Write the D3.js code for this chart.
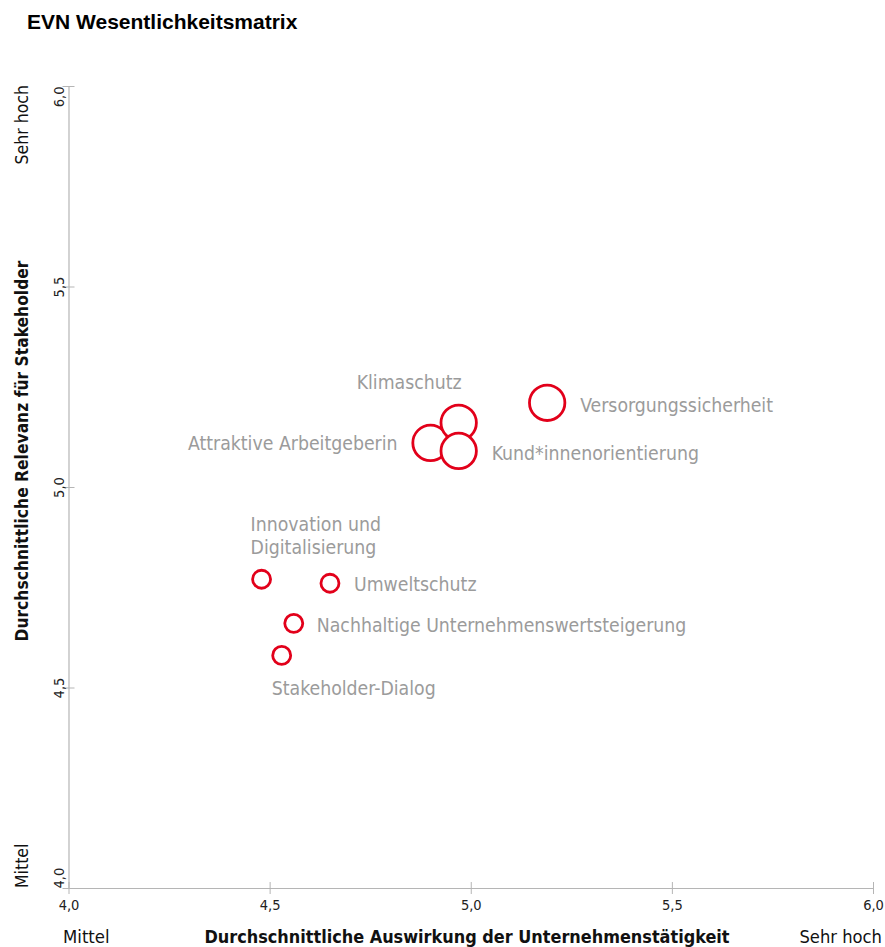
<!DOCTYPE html>
<html>
<head>
<meta charset="utf-8">
<script src="https://cdn.jsdelivr.net/npm/d3@7"></script>
<style>
  body { margin: 0; background: #fff; }
  svg text { font-family: "Liberation Sans Narrow", "DejaVu Sans Condensed", "Arial Narrow", sans-serif; }
  .title { font-family: "Liberation Sans", Arial, sans-serif !important; }
</style>
</head>
<body>
<svg id="chart" width="885" height="947"></svg>
<script>
// Materiality topics: impact of company activity (x) vs. stakeholder relevance (y)
const topics = [
  "Attraktive Arbeitgeberin",
  "Klimaschutz",
  "Kund*innenorientierung",
  "Versorgungssicherheit",
  "Innovation und Digitalisierung",
  "Umweltschutz",
  "Nachhaltige Unternehmenswertsteigerung",
  "Stakeholder-Dialog"
];
const impact    = [4.90, 4.97, 4.97, 5.19, 4.48, 4.65, 4.56, 4.53];
const relevance = [5.11, 5.16, 5.09, 5.21, 4.77, 4.76, 4.66, 4.58];
const priority  = ["hoch", "hoch", "hoch", "hoch", "mittel", "mittel", "mittel", "mittel"];

const tickValues = [4.0, 4.5, 5.0, 5.5, 6.0];
const tickLabels = ["4,0", "4,5", "5,0", "5,5", "6,0"];

// Label placement for each topic, relative to its bubble centre
const labelLayout = {
  "Attraktive Arbeitgeberin": { anchor: "end", dx: -33, dy: [7], lines: ["Attraktive Arbeitgeberin"] },
  "Klimaschutz": { anchor: "end", dx: 3, dy: [-34], lines: ["Klimaschutz"] },
  "Kund*innenorientierung": { anchor: "start", dx: 33, dy: [9], lines: ["Kund*innenorientierung"] },
  "Versorgungssicherheit": { anchor: "start", dx: 33, dy: [9], lines: ["Versorgungssicherheit"] },
  "Innovation und Digitalisierung": { anchor: "start", dx: -11, dy: [-48, -25], lines: ["Innovation und", "Digitalisierung"] },
  "Umweltschutz": { anchor: "start", dx: 24, dy: [8], lines: ["Umweltschutz"] },
  "Nachhaltige Unternehmenswertsteigerung": { anchor: "start", dx: 23, dy: [9], lines: ["Nachhaltige Unternehmenswertsteigerung"] },
  "Stakeholder-Dialog": { anchor: "start", dx: -10, dy: [40], lines: ["Stakeholder-Dialog"] }
};

const data = topics.map((t, i) => ({ topic: t, x: impact[i], y: relevance[i], priority: priority[i] }));

const svg = d3.select("#chart");
const axisColor = "#b5b5b5";
const red = "#e2001a";
const narrow = "Liberation Sans Narrow, DejaVu Sans Condensed, sans-serif";

const x = d3.scaleLinear().domain([4, 6]).range([68.5, 873]);
const y = d3.scaleLinear().domain([4, 6]).range([888, 86]);
const r = d3.scaleOrdinal().domain(["mittel", "hoch"]).range([9, 17.7]);

// Title
svg.append("text").attr("class", "title")
  .attr("x", 27).attr("y", 29)
  .attr("font-size", 21).attr("font-weight", "bold").attr("fill", "#000")
  .text("EVN Wesentlichkeitsmatrix");

// X axis
const xAxis = svg.append("g").attr("transform", `translate(0,${y(4)})`)
  .call(d3.axisBottom(x).tickValues(tickValues).tickFormat((d, i) => tickLabels[i]).tickSizeOuter(0));
xAxis.select(".domain").attr("stroke", axisColor).attr("stroke-width", 1.2);
xAxis.selectAll(".tick line").attr("stroke", axisColor).attr("y1", -6).attr("y2", 6);
xAxis.selectAll(".tick text").attr("fill", "#222").attr("font-size", 14.5)
  .attr("font-family", narrow).attr("y", 22).attr("dy", null);

// Y axis
const yAxis = svg.append("g").attr("transform", `translate(${x(4)},0)`)
  .call(d3.axisLeft(y).tickValues(tickValues).tickFormat((d, i) => tickLabels[i]).tickSizeOuter(0));
yAxis.select(".domain").attr("stroke", axisColor).attr("stroke-width", 1.2);
yAxis.selectAll(".tick line").attr("stroke", axisColor).attr("x1", -6).attr("x2", 6);
yAxis.selectAll(".tick text")
  .attr("fill", "#222").attr("font-size", 14.5)
  .attr("font-family", narrow)
  .attr("x", null).attr("dy", null)
  .attr("transform", "translate(-5,0) rotate(-90)")
  .attr("text-anchor", (d, i, n) => i === 0 ? "start" : (i === n.length - 1 ? "end" : "middle"));

// Axis descriptions
svg.append("text").attr("x", 63).attr("y", 943).attr("font-size", 18.4).attr("fill", "#111").text("Mittel");
svg.append("text").attr("x", 882).attr("y", 943).attr("font-size", 18.2).attr("fill", "#111")
  .attr("text-anchor", "end").text("Sehr hoch");
svg.append("text").attr("x", 467).attr("y", 943).attr("font-size", 17.9).attr("font-weight", "bold").attr("fill", "#111")
  .attr("text-anchor", "middle").text("Durchschnittliche Auswirkung der Unternehmenstätigkeit");

svg.append("text").attr("transform", "translate(28,888) rotate(-90)").attr("font-size", 17.5).attr("fill", "#111")
  .text("Mittel");
svg.append("text").attr("transform", "translate(28,85) rotate(-90)").attr("font-size", 17.5).attr("fill", "#111")
  .attr("text-anchor", "end").text("Sehr hoch");
svg.append("text").attr("transform", "translate(28,451) rotate(-90)").attr("font-size", 17.3).attr("font-weight", "bold").attr("fill", "#111")
  .attr("text-anchor", "middle").text("Durchschnittliche Relevanz für Stakeholder");

// Bubbles
svg.append("g").selectAll("circle").data(data).join("circle")
  .attr("cx", d => x(d.x)).attr("cy", d => y(d.y)).attr("r", d => r(d.priority))
  .attr("fill", "#fff").attr("stroke", red).attr("stroke-width", 2.8);

// Labels
const labels = svg.append("g").selectAll("text").data(data).join("text")
  .attr("font-size", 19.3).attr("fill", "#9b9b9b")
  .attr("text-anchor", d => labelLayout[d.topic].anchor);
labels.each(function (d) {
  const L = labelLayout[d.topic];
  d3.select(this).selectAll("tspan").data(L.lines).join("tspan")
    .attr("x", x(d.x) + L.dx)
    .attr("y", (t, j) => y(d.y) + L.dy[j])
    .text(t => t);
});
</script>
</body>
</html>
